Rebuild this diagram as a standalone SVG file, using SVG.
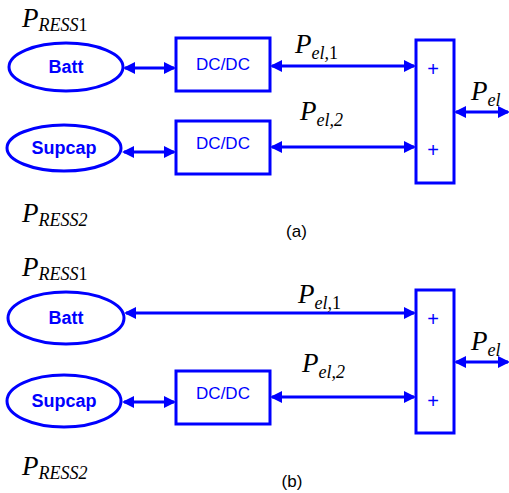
<svg xmlns="http://www.w3.org/2000/svg" width="509" height="493" viewBox="0 0 509 493">
<defs>
<marker id="ah" markerUnits="userSpaceOnUse" markerWidth="13" markerHeight="12" refX="10" refY="6" orient="auto-start-reverse" viewBox="0 0 13 12">
<path d="M0,0 L12,6 L0,12 z" fill="#0000FF"/>
</marker>
<style>
.sh{fill:#fff;stroke:#0000FF;stroke-width:3}
.cn{stroke:#0000FF;stroke-width:3;fill:none;marker-start:url(#ah);marker-end:url(#ah)}
.lb{font-family:"Liberation Sans",Arial,sans-serif;font-size:17px;fill:#0000FF;text-anchor:middle}
.b{font-weight:bold;font-size:18px}
.pl{font-family:"Liberation Sans",Arial,sans-serif;font-size:20px;fill:#0000FF;text-anchor:middle}
.m{font-family:"Liberation Serif","Times New Roman",serif;font-style:italic;fill:#000}
.big{font-size:27px}
.sub{font-size:18px}
.up{font-style:normal}
.cap{font-family:"Liberation Sans",Arial,sans-serif;font-size:17px;fill:#000;text-anchor:middle}
</style>
</defs>
<g id="connectors">
<line class="cn" x1="125" y1="68" x2="174" y2="68"/>
<line class="cn" x1="124" y1="152" x2="174" y2="152"/>
<line class="cn" x1="272" y1="66" x2="414" y2="66"/>
<line class="cn" x1="272" y1="147" x2="414" y2="147"/>
<line class="cn" x1="456" y1="112" x2="508" y2="112"/>
<line class="cn" x1="126" y1="313" x2="414" y2="313"/>
<line class="cn" x1="124" y1="402" x2="174" y2="402"/>
<line class="cn" x1="272" y1="397" x2="414" y2="397"/>
<line class="cn" x1="456" y1="362" x2="508" y2="362"/>
</g>
<g id="a-batt"><ellipse class="sh" cx="66" cy="67" rx="57" ry="24"/><text class="lb b" x="66" y="73">Batt</text></g>
<g id="a-supcap"><ellipse class="sh" cx="64" cy="148" rx="57" ry="23"/><text class="lb b" x="64" y="154">Supcap</text></g>
<g id="a-dcdc1"><rect class="sh" x="176" y="38" width="94" height="53"/><text class="lb" x="223" y="70">DC/DC</text></g>
<g id="a-dcdc2"><rect class="sh" x="176" y="121" width="94" height="53"/><text class="lb" x="223" y="149">DC/DC</text></g>
<g id="a-sum"><rect class="sh" x="416" y="40" width="38" height="143"/><text class="pl" x="433" y="75.5">+</text><text class="pl" x="433" y="157">+</text></g>
<g id="a-labels">
<text class="m big" x="22" y="27">P<tspan class="sub" dy="4">RESS<tspan class="up">1</tspan></tspan></text>
<text class="m big" x="22" y="222">P<tspan class="sub" dy="4">RESS2</tspan></text>
<text class="m big" x="295" y="53">P<tspan class="sub" dy="6">el,<tspan class="up">1</tspan></tspan></text>
<text class="m big" x="300" y="120">P<tspan class="sub" dy="6">el,2</tspan></text>
<text class="m big" x="471" y="100">P<tspan class="sub" dy="6">el</tspan></text>
<text class="cap" x="296.5" y="236.5">(a)</text>
</g>
<g id="b-batt"><ellipse class="sh" cx="66" cy="318" rx="58" ry="26"/><text class="lb b" x="66" y="324">Batt</text></g>
<g id="b-supcap"><ellipse class="sh" cx="64" cy="401" rx="57" ry="26"/><text class="lb b" x="64" y="407">Supcap</text></g>
<g id="b-dcdc"><rect class="sh" x="176" y="371" width="94" height="53"/><text class="lb" x="223" y="399">DC/DC</text></g>
<g id="b-sum"><rect class="sh" x="416" y="290" width="38" height="143"/><text class="pl" x="433" y="326">+</text><text class="pl" x="433" y="408">+</text></g>
<g id="b-labels">
<text class="m big" x="22" y="276">P<tspan class="sub" dy="4">RESS<tspan class="up">1</tspan></tspan></text>
<text class="m big" x="22" y="475">P<tspan class="sub" dy="4">RESS2</tspan></text>
<text class="m big" x="298" y="303">P<tspan class="sub" dy="6">el,<tspan class="up">1</tspan></tspan></text>
<text class="m big" x="302" y="372">P<tspan class="sub" dy="6">el,2</tspan></text>
<text class="m big" x="471" y="350">P<tspan class="sub" dy="6">el</tspan></text>
<text class="cap" x="292" y="487">(b)</text>
</g>
</svg>
